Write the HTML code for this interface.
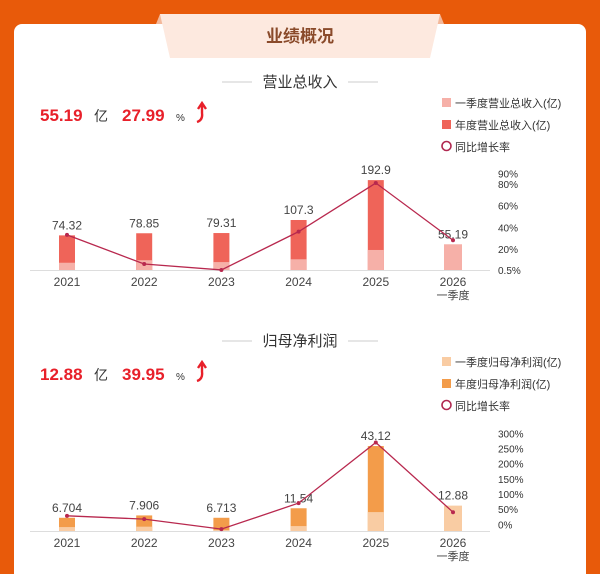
<!DOCTYPE html>
<html><head><meta charset="utf-8"><style>
body{margin:0;width:600px;height:574px;overflow:hidden;background:#e85a0a;font-family:"Liberation Sans","Noto Sans CJK SC",sans-serif;}
svg{position:absolute;left:0;top:0}
text{font-family:"Liberation Sans","Noto Sans CJK SC",sans-serif}
</style></head><body>
<svg id="s" width="600" height="574">
<rect x="14" y="24" width="572" height="560" rx="8" fill="#fff"/>
<polygon points="156,24 160,14 440,14 444,24" fill="#f3b89a"/>
<polygon points="160,14 440,14 430,58 170,58" fill="#fde9df"/>
<text x="300" y="42" text-anchor="middle" font-size="17" font-weight="bold" fill="#8a4a2a">业绩概况</text>
</svg>
<script>
const years=["2021","2022","2023","2024","2025","2026"];
const revAnnual=[74.32,78.85,79.31,107.3,192.9,55.19];
const revQ1=[15.6,21,17,23,43,55.19];
const revGrowth=[33,6,0.5,36,81,27.99];
const revTicks=["0.5%","20%","40%","60%","80%","90%"];
const revTickVals=[0.5,20,40,60,80,90];
const npAnnual=[6.704,7.906,6.713,11.54,43.12,12.88];
const npQ1=[2,2.2,0.5,2.5,9.6,12.88];
const npGrowth=[28,17,-16,70,270,39.95];
const npTicks=["0%","50%","100%","150%","200%","250%","300%"];
const npTickVals=[0,50,100,150,200,250,300];
const svg=document.getElementById('s');
const NS="http://www.w3.org/2000/svg";
function mk(tag,attrs,txt){const e=document.createElementNS(NS,tag);for(const k in attrs)e.setAttribute(k,attrs[k]);if(txt!==undefined)e.textContent=txt;svg.appendChild(e);return e;}
const xAt=i=>67+i*77.2;
function section(o){
  // header
  let e=mk('line',{x1:222,y1:o.hy-5,x2:252,y2:o.hy-5,stroke:'#ccc'});
  e=mk('line',{x1:348,y1:o.hy-5,x2:378,y2:o.hy-5,stroke:'#ccc'});
  e=mk('text',{x:300,y:o.hy,'text-anchor':'middle','font-size':15,fill:'#333'},o.title);
  
  e=mk('text',{x:40,y:o.hy+34,'font-size':17,'font-weight':'bold',fill:'#e8202a'},o.v1);
  
  mk('text',{x:94,y:o.hy+34,'font-size':14,fill:'#333'},'亿');
  e=mk('text',{x:122,y:o.hy+34,'font-size':17,'font-weight':'bold',fill:'#e8202a'},o.v2);
  
  mk('text',{x:176,y:o.hy+34,'font-size':10,fill:'#333'},'%');
  e=mk('path',{d:`M197 ${o.hy+35} Q203 ${o.hy+33} 202 ${o.hy+26} L202 ${o.hy+17} M198 ${o.hy+22} L202 ${o.hy+16} L206 ${o.hy+22}`,fill:'none',stroke:'#e8202a','stroke-width':2.4});
  
  // legend
  const ly=o.hy+17;
  e=mk('rect',{x:442,y:ly-6,width:9,height:9,fill:o.c1});
  
  mk('text',{x:455,y:ly+3,'font-size':11,fill:'#333'},o.l1);
  e=mk('rect',{x:442,y:ly+16,width:9,height:9,fill:o.c2});
  
  mk('text',{x:455,y:ly+25,'font-size':11,fill:'#333'},o.l2);
  e=mk('circle',{cx:446.5,cy:ly+42,r:4.5,fill:'none',stroke:'#b02850','stroke-width':1.6});
  
  mk('text',{x:455,y:ly+47,'font-size':11,fill:'#333'},'同比增长率');
  // axis
  e=mk('line',{x1:30,y1:o.base+0.5,x2:490,y2:o.base+0.5,stroke:'#ddd'});
  
  const yv=v=>o.base-v*o.sc;
  const yg=g=>o.g0-g*o.gs;
  o.ann.forEach((v,i)=>{
    const x=xAt(i);
    if(i<5){let b=mk('rect',{x:x-8,y:yv(v),width:16,height:v*o.sc,fill:o.c2});
      }
    let q=mk('rect',{x:x-(i<5?8:9),y:yv(o.q1[i]),width:i<5?16:18,height:o.q1[i]*o.sc,fill:o.c1});
    
    let t=mk('text',{x:x,y:yv(v)-6,'text-anchor':'middle','font-size':12,fill:'#444'},String(v));
    
    t=mk('text',{x:x,y:o.base+16,'text-anchor':'middle','font-size':12,fill:'#444'},years[i]);
    
  });
  let q=mk('text',{x:xAt(5),y:o.base+29,'text-anchor':'middle','font-size':11,fill:'#444'},'一季度');
  
  let pts=o.gr.map((g,i)=>xAt(i)+','+yg(g)).join(' ');
  let l=mk('polyline',{points:pts,fill:'none',stroke:'#b8284e','stroke-width':1.3});
  
  o.gr.forEach((g,i)=>{let c=mk('circle',{cx:xAt(i),cy:yg(g),r:2,fill:'#b8284e'});
    });
  o.tv.forEach((v,i)=>{let t=mk('text',{x:498,y:yg(v)+4,'font-size':10,fill:'#333'},o.tl[i]);
    });
}
section({key:'revenue',title:'营业总收入',hy:87,v1:'55.19',v2:'27.99',c1:'#f6b0a8',c2:'#ef6459',
  l1:'一季度营业总收入(亿)',l2:'年度营业总收入(亿)',base:270,sc:0.466,g0:270.5,gs:1.08,
  ann:revAnnual,q1:revQ1,gr:revGrowth,tv:revTickVals,tl:revTicks});
section({key:'net-profit',title:'归母净利润',hy:346,v1:'12.88',v2:'39.95',c1:'#f9cca3',c2:'#f39c4a',
  l1:'一季度归母净利润(亿)',l2:'年度归母净利润(亿)',base:531,sc:1.97,g0:524.3,gs:0.303,
  ann:npAnnual,q1:npQ1,gr:npGrowth,tv:npTickVals,tl:npTicks});
</script>
</body></html>
